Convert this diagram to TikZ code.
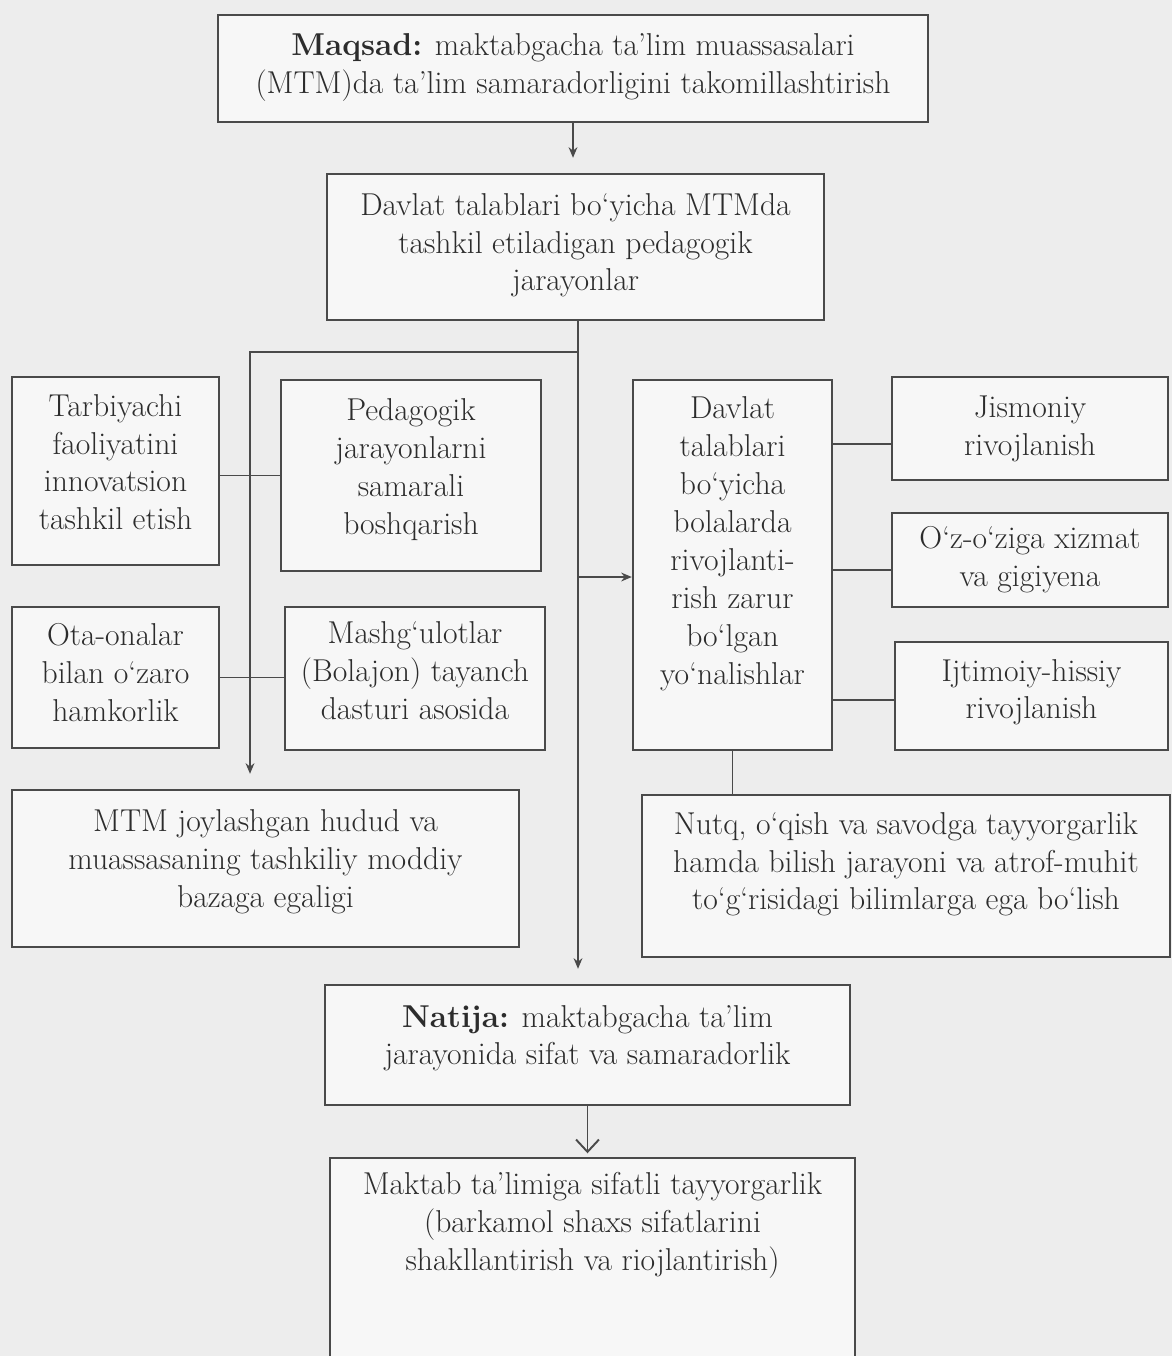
\documentclass[tikz,border=0pt]{standalone}
\usepackage{fontspec}
\usetikzlibrary{arrows.meta, calc}

\definecolor{paper}{HTML}{EDEDED}
\definecolor{ink}{HTML}{2C2C2C}
\definecolor{rule}{HTML}{4A4A4A}

\begin{document}
\begin{tikzpicture}[x=0.02cm, y=-0.02cm,
    every node/.style={font=\fontsize{18}{21.6}\selectfont, text=ink},
    box/.style={draw=rule, line width=1.4pt, fill=white!55!paper, align=center, inner sep=2pt},
    link/.style={draw=rule, line width=1.1pt},
    tip/.style={-{Stealth[length=6pt, width=5pt]}, shorten >=0.3cm}]

    % Page
    \fill[paper] (0,0) rectangle (1172,1356);
    \clip (0,0) rectangle (1172,1356);

    % Top boxes
    \node[box, minimum width=14.2cm, minimum height=2.14cm] (goal) at (573,68.5)
        {\textbf{Maqsad:} maktabgacha ta’lim muassasalari\\(MTM)da ta’lim samaradorligini takomillashtirish\\[-0.56cm]};
    \node[box, minimum width=9.94cm, minimum height=2.92cm] (process) at (575.5,247)
        {Davlat talablari bo‘yicha MTMda\\tashkil etiladigan pedagogik\\jarayonlar\\[-0.56cm]};

    % Left group
    \node[box, minimum width=4.14cm, minimum height=3.76cm] (teacher) at (115.5,471)
        {Tarbiyachi\\faoliyatini\\innovatsion\\tashkil etish\\[-0.4cm]};
    \node[box, minimum width=5.2cm, minimum height=3.82cm] (manage) at (411,475.5)
        {Pedagogik\\jarayonlarni\\samarali\\boshqarish\\[-0.4cm]};
    \node[box, minimum width=4.14cm, minimum height=2.82cm] (parents) at (115.5,677.5)
        {Ota-onalar\\bilan o‘zaro\\hamkorlik\\[-0.56cm]};
    \node[box, minimum width=5.2cm, minimum height=2.86cm] (lessons) at (415,678.5)
        {Mashg‘ulotlar\\(Bolajon) tayanch\\dasturi asosida\\[-0.44cm]};
    \node[box, minimum width=10.14cm, minimum height=3.14cm] (region) at (265.5,868.5)
        {MTM joylashgan hudud va\\muassasaning tashkiliy moddiy\\bazaga egaligi\\[-0.36cm]};

    % Right group
    \node[box, minimum width=3.98cm, minimum height=7.4cm] (dirs) at (732.5,565)
        {Davlat\\talablari\\bo‘yicha\\bolalarda\\rivojlanti-\\rish zarur\\bo‘lgan\\yo‘nalishlar\\ \strut};
    \node[box, minimum width=5.52cm, minimum height=2.06cm] (phys) at (1030,428.5)
        {Jismoniy\\rivojlanish};
    \node[box, minimum width=5.52cm, minimum height=1.88cm] (self) at (1030,560)
        {O‘z-o‘ziga xizmat\\va gigiyena};
    \node[box, minimum width=5.46cm, minimum height=2.16cm] (social) at (1031.5,696)
        {Ijtimoiy-hissiy\\rivojlanish\\[-0.48cm]};
    \node[box, minimum width=10.56cm, minimum height=3.24cm] (speech) at (906,876)
        {Nutq, o‘qish va savodga tayyorgarlik\\hamda bilish jarayoni va atrof-muhit\\to‘g‘risidagi bilimlarga ega bo‘lish\\[-0.16cm]};

    % Bottom boxes
    \node[box, minimum width=10.5cm, minimum height=2.4cm] (result) at (587.5,1045)
        {\textbf{Natija:} maktabgacha ta’lim\\jarayonida sifat va samaradorlik\\[-0.36cm]};
    \node[box, minimum width=10.5cm, minimum height=4.28cm] (school) at (592.5,1265)
        {Maktab ta’limiga sifatli tayyorgarlik\\(barkamol shaxs sifatlarini\\shakllantirish va riojlantirish)\\ \strut\\ \strut};

    % Branch points
    \coordinate (fork) at (578,352);
    \coordinate (lbus) at (250,352);
    \coordinate (rtap) at (578,577);

    % Trunk
    \draw[link, tip] (goal.south) -- (goal.south |- process.north);
    \draw[link, tip] (process.south -| fork) -- (fork |- result.north);

    % Left branch
    \draw[link, tip] (fork) -- (lbus) -- (lbus |- region.north);
    \draw[link] (teacher.east |- manage.west) -- (manage.west);
    \draw[link] (parents.east) -- (parents.east -| lessons.west);

    % Right branch
    \draw[link, -{Stealth[length=6pt, width=5pt]}] (rtap) -- (rtap -| dirs.west);
    \draw[link] (dirs.east |- 0,444) -- (phys.west |- 0,444);
    \draw[link] (dirs.east |- 0,570) -- (self.west |- 0,570);
    \draw[link] (dirs.east |- 0,700) -- (social.west |- 0,700);
    \draw[link] (dirs.south) -- (dirs.south |- speech.north);

    % Result
    \draw[link, -{Straight Barb[length=7pt, width=13pt]}, shorten >=2pt] (result.south) -- (result.south |- school.north);
\end{tikzpicture}
\end{document}
